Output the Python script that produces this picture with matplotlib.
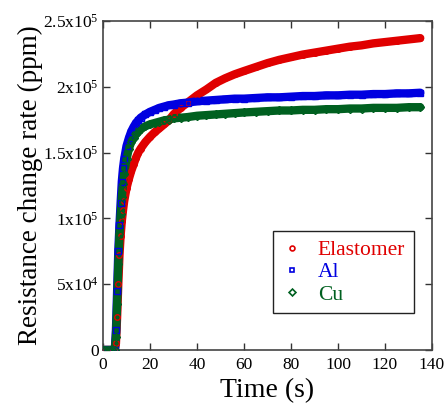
import matplotlib
matplotlib.use("Agg")
import matplotlib.pyplot as plt
from matplotlib.lines import Line2D

plt.rcParams['font.family'] = ['Liberation Serif', 'DejaVu Serif']
plt.rcParams['mathtext.fontset'] = 'custom'
plt.rcParams['mathtext.rm'] = 'Liberation Serif'

# time (s)
time = [0, 1, 2, 3, 4, 5, 5.5, 6, 6.5, 7, 7.5, 8, 8.5, 9, 10, 11, 12, 13, 14, 15,
        16, 18, 20, 22, 24, 26, 28, 30, 33, 36, 40, 44, 48, 52, 56, 60, 65, 70,
        75, 80, 85, 90, 95, 100, 105, 110, 115, 120, 125, 130, 135]

# resistance change rate (ppm)
elastomer = [0, 0, 0, 0, 0, 0, 5e3, 25e3, 50e3, 72e3, 87e3, 98e3, 106e3, 113e3,
             123e3, 130e3, 136e3, 141e3, 146e3, 150e3, 153e3, 158e3, 162e3,
             165.5e3, 168.5e3, 171.5e3, 174.5e3, 179e3, 184e3, 188e3, 193.5e3,
             198e3, 203e3, 206.5e3, 209.5e3, 212e3, 215e3, 218e3, 220.5e3,
             222.5e3, 224.5e3, 226e3, 227.5e3, 229e3, 230.5e3, 231.5e3, 233e3,
             234e3, 235e3, 236e3, 237e3]
al = [0, 0, 0, 0, 0, 0, 15e3, 45e3, 75e3, 95e3, 112e3, 128e3, 138e3, 145e3,
      155e3, 161e3, 166e3, 169.5e3, 172.5e3, 174.5e3, 176.5e3, 179e3, 181e3,
      182.5e3, 184e3, 185e3, 186e3, 186.5e3, 187.5e3, 188e3, 189e3, 189.5e3,
      190e3, 190.5e3, 191e3, 191e3, 191.5e3, 192e3, 192e3, 192.5e3, 193e3,
      193e3, 193.5e3, 193.5e3, 194e3, 194e3, 194.5e3, 194.5e3, 195e3, 195e3,
      195.5e3]
cu = [0, 0, 0, 0, 0, 0, 10e3, 35e3, 65e3, 88e3, 103e3, 116e3, 126e3, 134e3,
      145e3, 153e3, 158e3, 161e3, 164e3, 166e3, 168e3, 170e3, 171.5e3, 172.5e3,
      173.5e3, 174.5e3, 175e3, 176e3, 176.5e3, 177e3, 178e3, 178.5e3, 179e3,
      179.5e3, 180e3, 180.5e3, 181e3, 181.5e3, 182e3, 182e3, 182.5e3, 182.5e3,
      183e3, 183e3, 183.5e3, 183.5e3, 184e3, 184e3, 184e3, 184.5e3, 184.5e3]

labels = ['Elastomer', 'Al', 'Cu']
colors = ['#e00000', '#0000e0', '#006020']
markers = ['o', 's', 'D']

fig = plt.figure(figsize=(4.45, 4.08), dpi=100)
ax = fig.add_axes([0.2315, 0.1422, 0.7393, 0.8063])

handles = []
for y, lab, c, m in zip([elastomer, al, cu], labels, colors, markers):
    ax.plot(time, y, color=c, lw=6, solid_capstyle='round', zorder=2)
    ax.plot(time, y, ls='none', marker=m, ms=4, mfc='none', mec=c, mew=1,
            zorder=3)
    handles.append(Line2D([], [], ls='none', marker=m, ms=3.5, mfc='none',
                          mec=c, mew=1.2, label=lab))

ax.set_xlim(0, 140)
ax.set_ylim(0, 2.5e5)
ax.set_xticks(range(0, 141, 20))
yt = [0, 5e4, 1e5, 1.5e5, 2e5, 2.5e5]
ax.set_yticks(yt)
ax.set_yticklabels(['0', r'$\mathregular{5x10^4}$', r'$\mathregular{1x10^5}$',
                    r'$\mathregular{1.5x10^5}$', r'$\mathregular{2x10^5}$',
                    r'$\mathregular{2.5x10^5}$'])
ax.tick_params(direction='in', top=True, right=True, length=5, width=1,
               color='#333333', labelsize=12.5, pad=3)
ax.tick_params(axis='x', labelsize=12.5, pad=5)
for s in ax.spines.values():
    s.set_color('#444444')
    s.set_linewidth(1.2)

ax.set_xlabel('Time (s)', fontsize=20, labelpad=4)
ax.set_ylabel('Resistance change rate (ppm)', fontsize=19.5, labelpad=0)

leg = ax.legend(handles=handles, loc='lower right',
                bbox_to_anchor=(0.945, 0.112), borderaxespad=0,
                fontsize=15.5, fancybox=False, framealpha=1, edgecolor='#222222',
                handlelength=1.0, handletextpad=0.7, labelspacing=0.1,
                borderpad=0.4)
leg.get_frame().set_linewidth(1.0)
for txt, c in zip(leg.get_texts(), colors):
    txt.set_color(c)

fig.savefig('out.png', dpi=100)
